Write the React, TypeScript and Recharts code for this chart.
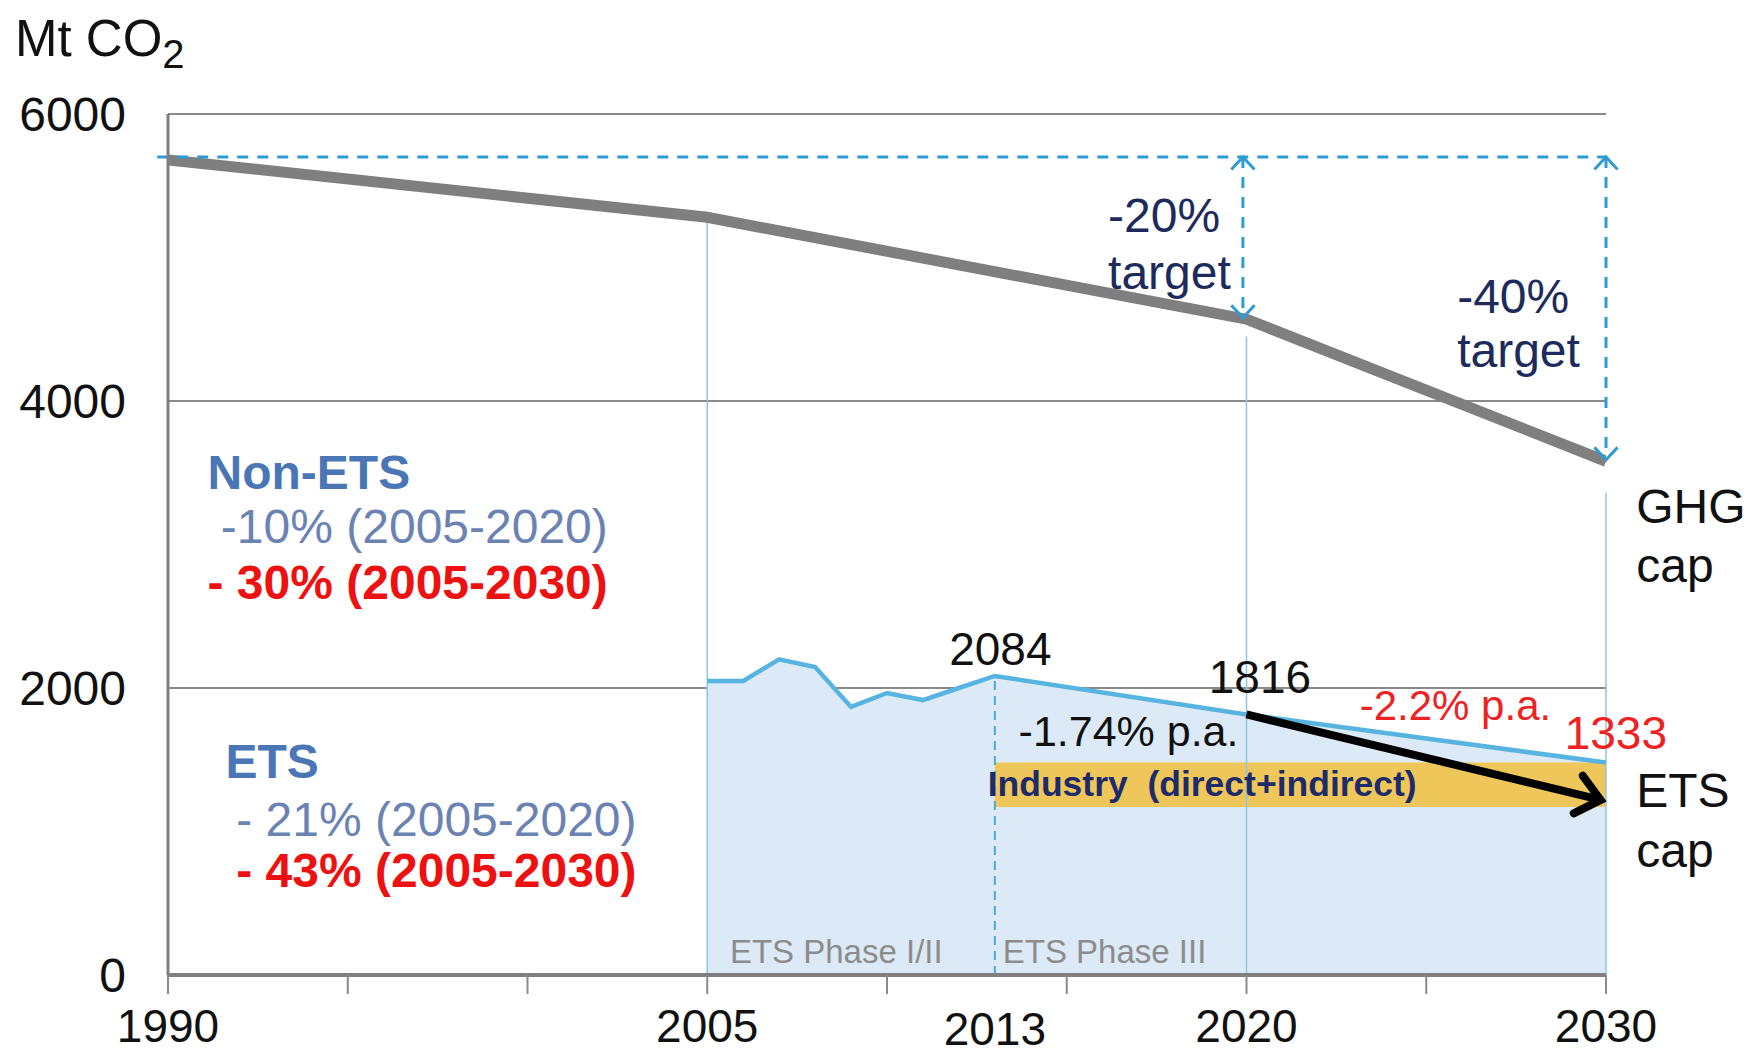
import {
  ComposedChart,
  Line,
  Area,
  XAxis,
  YAxis,
  CartesianGrid,
  ReferenceLine,
  ReferenceDot,
  Label,
} from 'recharts';

const yTicks = [0, 2000, 4000, 6000];
const xTicks = [1990, 1995, 2000, 2005, 2010, 2013, 2015, 2020, 2025, 2030];
const labelledYears = [1990, 2005, 2013, 2020, 2030];

const ghgCap = [
  { year: 1990, mt: 5680 },
  { year: 2005, mt: 5280 },
  { year: 2020, mt: 4570 },
  { year: 2030, mt: 3580 },
];

const etsEmissions = [
  { year: 2005, mt: 2049 },
  { year: 2006, mt: 2049 },
  { year: 2007, mt: 2200 },
  { year: 2008, mt: 2146 },
  { year: 2009, mt: 1868 },
  { year: 2010, mt: 1965 },
  { year: 2011, mt: 1916 },
  { year: 2012, mt: 2000 },
  { year: 2013, mt: 2084 },
  { year: 2020, mt: 1816 },
  { year: 2030, mt: 1480 },
];

const industryBand = [
  { year: 2013, low: 1170, high: 1480 },
  { year: 2030, low: 1170, high: 1480 },
];

const etsCapPath = [
  { year: 2020, mt: 1816 },
  { year: 2030, mt: 1220 },
];

const targetLevel = 5700;

const targetArrows = [
  { year: 2019.9, from: 5700, to: 4580 },
  { year: 2030, from: 5700, to: 3590 },
];

const phaseLines = [
  { year: 2005, top: 5280, dashed: false },
  { year: 2013, top: 2084, dashed: true },
  { year: 2020, top: 4450, dashed: false },
  { year: 2030, top: 3360, dashed: false },
];

const notes = [
  { year: 1991.1, mt: 3500, text: 'Non-ETS', kind: 'group' },
  { year: 1991.1, mt: 3127, text: ' -10% (2005-2020)', kind: 'groupSub' },
  { year: 1991.1, mt: 2737, text: '- 30% (2005-2030)', kind: 'groupRed' },
  { year: 1991.6, mt: 1489, text: 'ETS', kind: 'group' },
  { year: 1991.9, mt: 1084, text: '- 21% (2005-2020)', kind: 'groupSub' },
  { year: 1991.9, mt: 725, text: '- 43% (2005-2030)', kind: 'groupRed' },
  { year: 2016.15, mt: 5294, text: '-20%', kind: 'target' },
  { year: 2016.15, mt: 4897, text: 'target', kind: 'target' },
  { year: 2025.86, mt: 4725, text: '-40%', kind: 'target' },
  { year: 2025.86, mt: 4351, text: 'target', kind: 'target' },
  { year: 2030.84, mt: 3267, text: 'GHG', kind: 'plain' },
  { year: 2030.84, mt: 2854, text: 'cap', kind: 'plain' },
  { year: 2011.73, mt: 2269, text: '2084', kind: 'value' },
  { year: 2018.95, mt: 2074, text: '1816', kind: 'value' },
  { year: 2013.66, mt: 1700, text: '-1.74% p.a.', kind: 'rate' },
  { year: 2023.15, mt: 1879, text: '-2.2% p.a.', kind: 'redSmall' },
  { year: 2028.85, mt: 1684, text: '1333', kind: 'red' },
  { year: 2012.8, mt: 1333, text: 'Industry  (direct+indirect)', kind: 'industry' },
  { year: 2030.84, mt: 1287, text: 'ETS', kind: 'plain' },
  { year: 2030.84, mt: 865, text: 'cap', kind: 'plain' },
  { year: 2005.63, mt: 164, text: 'ETS Phase I/II', kind: 'phase' },
  { year: 2013.22, mt: 164, text: 'ETS Phase III', kind: 'phase' },
];

const FONT = '"Liberation Sans", Arial, sans-serif';

const noteStyles: Record<string, { fill: string; size: number; weight: string }> = {
  group: { fill: '#4a76b6', size: 48, weight: 'bold' },
  groupSub: { fill: '#6a83b3', size: 48, weight: 'normal' },
  groupRed: { fill: '#ee1111', size: 48, weight: 'bold' },
  target: { fill: '#1d2b5c', size: 48, weight: 'normal' },
  plain: { fill: '#111111', size: 48, weight: 'normal' },
  value: { fill: '#111111', size: 46, weight: 'normal' },
  rate: { fill: '#111111', size: 43, weight: 'normal' },
  redSmall: { fill: '#ee2222', size: 42, weight: 'normal' },
  red: { fill: '#ee2222', size: 46, weight: 'normal' },
  industry: { fill: '#1d2b6b', size: 35.5, weight: 'bold' },
  phase: { fill: '#8c8c8c', size: 33, weight: 'normal' },
};

function chevron(x: number, y: number, angle: number, len: number, spread: number) {
  const a1 = angle + Math.PI - spread;
  const a2 = angle + Math.PI + spread;
  return `M${x + len * Math.cos(a1)},${y + len * Math.sin(a1)} L${x},${y} L${x + len * Math.cos(a2)},${y + len * Math.sin(a2)}`;
}

function DoubleArrow(props: any) {
  const { x1, y1, x2, y2 } = props;
  const ang = Math.atan2(y2 - y1, x2 - x1);
  return (
    <g>
      <line x1={x1} y1={y1} x2={x2} y2={y2} stroke="#2f9bd3" strokeWidth={3} strokeDasharray="11 9" />
      <path d={chevron(x1, y1, ang + Math.PI, 17, 0.75)} stroke="#2f9bd3" strokeWidth={3} fill="none" />
      <path d={chevron(x2, y2, ang, 17, 0.75)} stroke="#2f9bd3" strokeWidth={3} fill="none" />
    </g>
  );
}

function BlackArrow(props: any) {
  const { x1, y1, x2, y2 } = props;
  const ang = Math.atan2(y2 - y1, x2 - x1);
  return (
    <g>
      <line x1={x1} y1={y1} x2={x2} y2={y2} stroke="#000" strokeWidth={8} />
      <path d={chevron(x2, y2, ang, 30, 0.7)} stroke="#000" strokeWidth={8} fill="none" strokeLinecap="round" strokeLinejoin="miter" />
    </g>
  );
}

function XTick(props: any) {
  const { x, y, payload } = props;
  const v = payload.value;
  return (
    <g>
      {v % 5 === 0 && <line x1={x} y1={y} x2={x} y2={y + 19} stroke="#8a8a8a" strokeWidth={2} />}
      {labelledYears.includes(v) && (
        <text
          x={x}
          y={y + (v === 2013 ? 54 : 51)}
          textAnchor="middle"
          dominantBaseline="central"
          fontFamily={FONT}
          fontSize={46}
          fill="#111"
        >
          {v}
        </text>
      )}
    </g>
  );
}

function YTick(props: any) {
  const { x, y, payload } = props;
  return (
    <text x={x - 42} y={y} textAnchor="end" dominantBaseline="central" fontFamily={FONT} fontSize={48} fill="#111">
      {payload.value}
    </text>
  );
}

export default function App() {
  return (
    <div style={{ position: 'absolute', left: 0, top: 0, background: '#fff' }}>
      <ComposedChart width={1755} height={1056} margin={{ top: 114, right: 149, bottom: 0, left: 0 }}>
        <CartesianGrid horizontal vertical={false} stroke="#8a8a8a" strokeWidth={2} />
        <XAxis
          dataKey="year"
          type="number"
          domain={[1990, 2030]}
          ticks={xTicks}
          interval={0}
          height={81}
          tickSize={0}
          tickMargin={0}
          tickLine={false}
          axisLine={{ stroke: '#7f7f7f', strokeWidth: 4 }}
          tick={<XTick />}
          allowDataOverflow
        />
        <YAxis
          type="number"
          domain={[0, 6000]}
          ticks={yTicks}
          width={168}
          tickSize={0}
          tickMargin={0}
          tickLine={false}
          axisLine={{ stroke: '#7f7f7f', strokeWidth: 3 }}
          tick={<YTick />}
          allowDataOverflow
        >
          <Label
            content={(p: any) => (
              <text x={15} y={p.viewBox.y - 76} dominantBaseline="central" fontFamily={FONT} fontSize={51} fill="#111">
                Mt CO
                <tspan fontSize={40} dy={16}>2</tspan>
              </text>
            )}
          />
        </YAxis>

        <Area
          data={etsEmissions}
          dataKey="mt"
          type="linear"
          stroke="none"
          fill="#dbeaf6"
          fillOpacity={1}
          isAnimationActive={false}
        />
        <Area
          data={industryBand}
          dataKey={(d: any) => [d.low, d.high]}
          type="linear"
          stroke="none"
          fill="#efc659"
          fillOpacity={1}
          isAnimationActive={false}
        />

        {phaseLines.map((p) => (
          <ReferenceLine
            key={p.year}
            segment={[
              { x: p.year, y: 0 },
              { x: p.year, y: p.top },
            ]}
            stroke={p.dashed ? '#49a9d8' : '#8cc6e4'}
            strokeWidth={p.dashed ? 2 : 1.5}
            strokeDasharray={p.dashed ? '9 6' : undefined}
            ifOverflow="visible"
          />
        ))}

        <Line
          data={etsEmissions}
          dataKey="mt"
          type="linear"
          stroke="#57b4e0"
          strokeWidth={4.5}
          dot={false}
          isAnimationActive={false}
        />
        <Line
          data={ghgCap}
          dataKey="mt"
          type="linear"
          stroke="#7f7f7f"
          strokeWidth={11}
          dot={false}
          isAnimationActive={false}
        />

        <ReferenceLine
          segment={[
            { x: 1989.7, y: targetLevel },
            { x: 2030, y: targetLevel },
          ]}
          stroke="#2f9bd3"
          strokeWidth={3}
          strokeDasharray="11 9"
          ifOverflow="visible"
        />
        {targetArrows.map((a) => (
          <ReferenceLine
            key={a.year}
            segment={[
              { x: a.year, y: a.from },
              { x: a.year, y: a.to },
            ]}
            ifOverflow="visible"
            shape={(p: any) => <DoubleArrow {...p} />}
          />
        ))}
        <ReferenceLine
          segment={[
            { x: etsCapPath[0].year, y: etsCapPath[0].mt },
            { x: etsCapPath[1].year - 0.15, y: etsCapPath[1].mt },
          ]}
          ifOverflow="visible"
          shape={(p: any) => <BlackArrow {...p} />}
        />

        {notes.map((n, i) => {
          const s = noteStyles[n.kind];
          return (
            <ReferenceDot
              key={i}
              x={n.year}
              y={n.mt}
              r={0}
              ifOverflow="visible"
              shape={(p: any) => (
                <text
                  x={p.cx}
                  y={p.cy}
                  dominantBaseline="central"
                  fontFamily={FONT}
                  fontSize={s.size}
                  fontWeight={s.weight}
                  fill={s.fill}
                  style={{ whiteSpace: 'pre' }}
                >
                  {n.text}
                </text>
              )}
            />
          );
        })}
      </ComposedChart>
    </div>
  );
}
